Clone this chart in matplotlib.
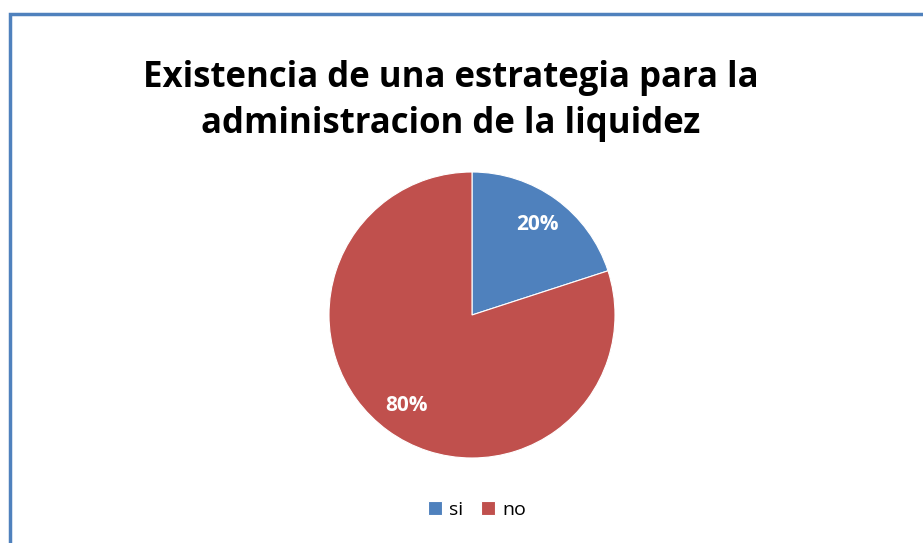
import matplotlib as mp
mp.use('Agg')
import matplotlib.pyplot as plt
from matplotlib.patches import Rectangle

# data
labels = ['si', 'no']
values = [20, 80]
colors = ['#4F81BD', '#C0504D']
title = 'Existencia de una estrategia para la\nadministracion de la liquidez'

W, H = 923, 543
fig = plt.figure(figsize=(W / 100, H / 100), dpi=100)

# chart border (runs off right and bottom edges)
fig.patches.append(Rectangle((9.5 / W, -0.1), 1.2, 1.1 - 14.5 / H,
                             transform=fig.transFigure, fill=False,
                             edgecolor='#4F81BD', linewidth=2.5))

fig.text(451 / W, 1 - 101 / H, title, ha='center', va='center',
         fontsize=25, fontweight='bold', family='Open Sans',
         linespacing=1.38, color='black')

cx, cy, r = 472, 315, 143
ax = fig.add_axes([(cx - r) / W, (H - cy - r) / H, 2 * r / W, 2 * r / H])
wedges, texts, autotexts = ax.pie(values, colors=colors, startangle=90,
                                  counterclock=False, autopct='%d%%',
                                  pctdistance=0.78, radius=1,
                                  wedgeprops=dict(linewidth=0.8, edgecolor='white'))
for t in autotexts:
    t.set_color('white')
    t.set_fontweight('bold')
    t.set_fontsize(15)
    t.set_family('Open Sans')
ax.set_xlim(-1, 1)
ax.set_ylim(-1, 1)
ax.set_aspect('equal')

fig.legend(wedges, labels, loc='center', bbox_to_anchor=(477 / W, 1 - 510 / H),
           ncol=2, frameon=False, handlelength=0.75, handleheight=0.75,
           handletextpad=0.35, columnspacing=0.9,
           prop={'family': 'Open Sans', 'size': 14})

fig.savefig('out.png', dpi=100)
